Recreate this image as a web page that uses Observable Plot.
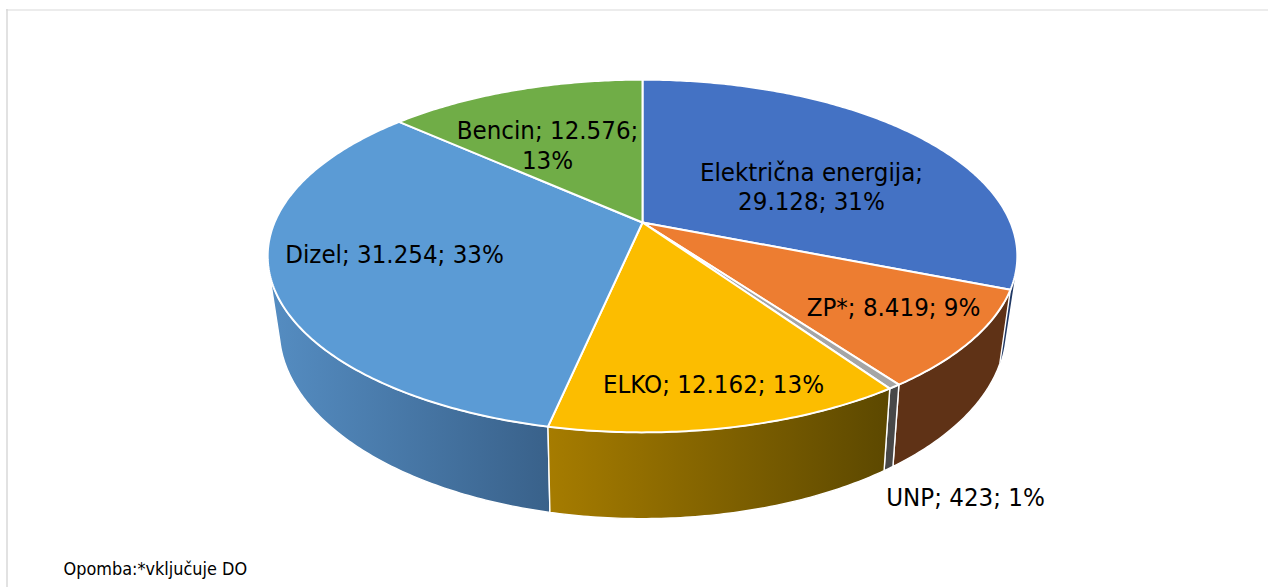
<!DOCTYPE html>
<html>
<head>
<meta charset="utf-8">
<script src="https://cdn.jsdelivr.net/npm/d3@7"></script>
<script src="https://cdn.jsdelivr.net/npm/@observablehq/plot@0.6"></script>
<style>
html,body{margin:0;padding:0;background:#fff;overflow:hidden}
svg{display:block}
</style>
</head>
<body>
<div id="chart"></div>
<script>
// Data, in clockwise order from twelve o'clock
const categories = ["Električna energija", "ZP*", "UNP", "ELKO", "Dizel", "Bencin"];
const values = [29128, 8419, 423, 12162, 31254, 12576];
const labels = [
  "Električna energija;\n29.128; 31%",
  "ZP*; 8.419; 9%",
  "UNP; 423; 1%",
  "ELKO; 12.162; 13%",
  "Dizel; 31.254; 33%",
  "Bencin; 12.576;\n13%"
];
const note = "Opomba:*vključuje DO";

// Styles
const topColors = ["#4472c4", "#ed7d31", "#a5a5a5", "#fcbd00", "#5b9bd5", "#70ad47"];
const wallFills = ["#203864", "#5f3216", "#484848", "url(#wallElko)", "url(#wallDizel)"];
const wallStrokes = ["none", "#fff", "#fff", "#fff", "#fff"];
const wallOrder = [4, 0, 1, 2, 3];
const labelX = [811, 893, 965, 713, 394, 547];
const labelY = [185.5, 305.5, 496, 382.5, 252.5, 144];

// Perspective view of the disc: top rim and bottom rim
const topRim = {cx: 642, cy: 222, a: 368, b: 170, k: 0.19};
const bottomRim = {cx: 642, cy: 291, a: 356, b: 181.7, k: 0.2};
const rimPoint = (rim, t) => {
  const u = Math.sin(t), v = Math.cos(t), w = 1 + rim.k * v;
  return {x: rim.cx + rim.a * u / w, y: rim.cy - rim.b * v / w};
};
const arc = (rim, t0, t1) => {
  const n = Math.max(2, Math.ceil(Math.abs(t1 - t0) * 90));
  return d3.range(n + 1).map(i => rimPoint(rim, t0 + (t1 - t0) * i / n));
};

const total = d3.sum(values);
const cum = d3.cumsum(values);
const slices = values.map((v, i) => ({
  t0: (i ? cum[i - 1] : 0) / total * 2 * Math.PI,
  t1: cum[i] / total * 2 * Math.PI
}));

// The side wall only shows between the two silhouette angles
const deg = Math.PI / 180;
const visibleFrom = 106 * deg, visibleTo = 255 * deg;
const close = pts => [...pts, pts[0]];
const topFace = s => close([{x: topRim.cx, y: topRim.cy}, ...arc(topRim, s.t0, s.t1)]);
const wall = s => {
  const a = Math.max(s.t0, visibleFrom), b = Math.min(s.t1, visibleTo);
  return close([...arc(topRim, a, b), ...arc(bottomRim, b, a)]);
};

const defs = () => {
  const svg = d3.create("svg:g");
  const d = svg.append("defs");
  const grad = (id, stops) => {
    const g = d.append("linearGradient").attr("id", id);
    stops.forEach(([o, c]) => g.append("stop").attr("offset", o).attr("stop-color", c));
  };
  grad("wallDizel", [[0, "#558dc2"], [1, "#39618a"]]);
  grad("wallElko", [[0, "#a67c00"], [1, "#5c4800"]]);
  return svg.node();
};

const chart = Plot.plot({
  width: 1268,
  height: 587,
  margin: 0,
  x: {domain: [0, 1268], range: [0, 1268], axis: null},
  y: {domain: [0, 587], range: [0, 587], axis: null},
  style: {background: "#fff", fontFamily: "'DejaVu Sans Condensed', 'DejaVu Sans', sans-serif"},
  marks: [
    defs,
    Plot.ruleY([9.5], {x1: 6, x2: 1268, stroke: "#d9d9d9", strokeWidth: 1.2}),
    Plot.ruleX([6.5], {y1: 9, y2: 587, stroke: "#d9d9d9", strokeWidth: 1.5}),
    ...wallOrder.map(i => Plot.line(wall(slices[i]), {
      x: "x", y: "y", fill: wallFills[i], stroke: wallStrokes[i], strokeWidth: 1.4, strokeLinejoin: "round"
    })),
    ...slices.map((s, i) => Plot.line(topFace(s), {
      x: "x", y: "y", fill: topColors[i], stroke: "#fff", strokeWidth: 2, strokeLinejoin: "round"
    })),
    Plot.text(labels, {
      x: (d, i) => labelX[i], y: (d, i) => labelY[i], text: d => d,
      fontSize: 25.6, fill: "#000", lineHeight: 1.16, textAnchor: "middle"
    }),
    Plot.text([note], {
      x: [63], y: [569], text: d => d, fontSize: 17.9, fill: "#000", textAnchor: "start"
    })
  ]
});
document.getElementById("chart").append(chart);
</script>
</body>
</html>
